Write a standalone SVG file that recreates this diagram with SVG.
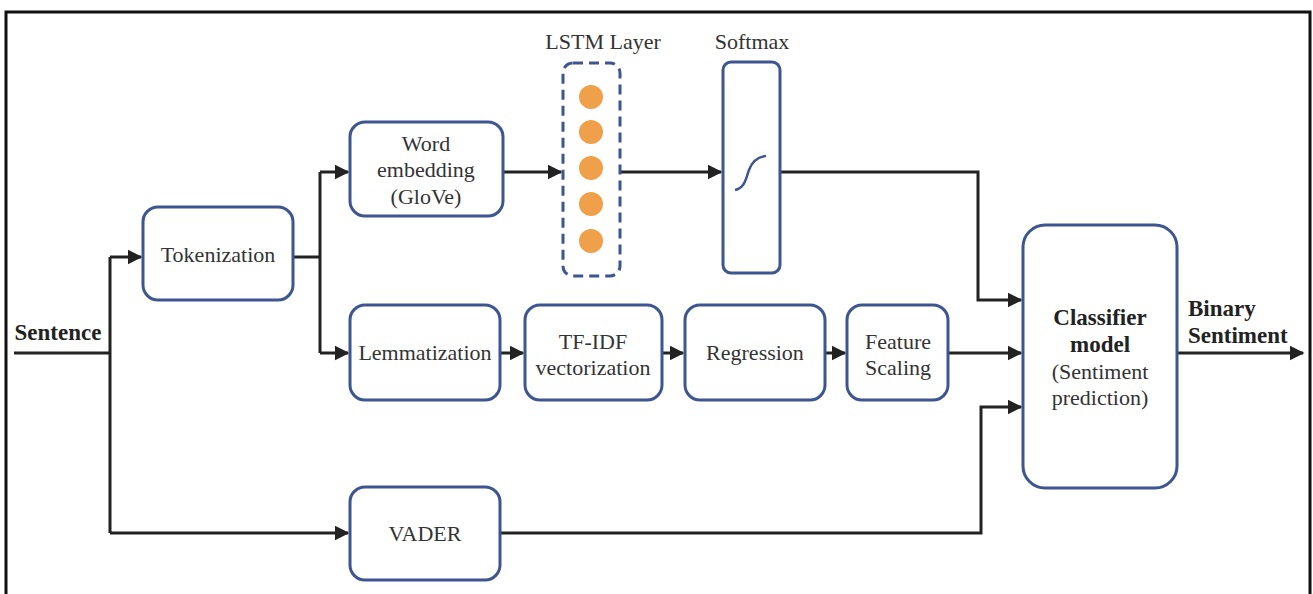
<svg xmlns="http://www.w3.org/2000/svg" width="1313" height="594" viewBox="0 0 1313 594">
<defs>
<marker id="ah" viewBox="0 0 10 10" refX="9" refY="5" markerWidth="5" markerHeight="5" orient="auto" markerUnits="strokeWidth">
<path d="M0,0 L10,5 L0,10 z" fill="#222"/>
</marker>
<style>
.box{fill:#fff;stroke:#3d5590;stroke-width:3}
.dash{fill:#fff;stroke:#3d5590;stroke-width:3;stroke-dasharray:10,6}
.t{font-size:22px;fill:#333;text-anchor:middle}
.b{font-weight:bold;fill:#222;font-size:23px}
.c{fill:none;stroke:#222;stroke-width:3}
.dot{fill:#f0a04a}
</style>
</defs>
<rect x="0" y="0" width="1313" height="594" fill="#fff"/>
<rect x="6" y="12" width="1304" height="600" fill="none" stroke="#111" stroke-width="3"/>

<g id="connectors">
<path class="c" d="M14,353 H110"/>
<path class="c" d="M110,257 V533"/>
<path class="c" d="M110,257 H141" marker-end="url(#ah)"/>
<path class="c" d="M110,533 H348" marker-end="url(#ah)"/>
<path class="c" d="M293,257 H320"/>
<path class="c" d="M320,172 V353"/>
<path class="c" d="M320,172 H348" marker-end="url(#ah)"/>
<path class="c" d="M320,353 H348" marker-end="url(#ah)"/>
<path class="c" d="M503,172 H561" marker-end="url(#ah)"/>
<path class="c" d="M620,172 H721" marker-end="url(#ah)"/>
<path class="c" d="M780,172 H978 V300 H1021" marker-end="url(#ah)"/>
<path class="c" d="M500,353 H523" marker-end="url(#ah)"/>
<path class="c" d="M662,353 H683" marker-end="url(#ah)"/>
<path class="c" d="M825,353 H845" marker-end="url(#ah)"/>
<path class="c" d="M948,353 H1021" marker-end="url(#ah)"/>
<path class="c" d="M500,533 H981 V407 H1021" marker-end="url(#ah)"/>
<path class="c" d="M1177,353 H1303" marker-end="url(#ah)"/>
</g>

<g font-family="'Liberation Serif', 'DejaVu Serif', serif">
<g id="sentence">
<text class="t b" x="58" y="340">Sentence</text>
</g>

<g id="tokenization">
<rect class="box" x="143" y="207" width="150" height="93" rx="15"/>
<text class="t" x="218" y="262">Tokenization</text>
</g>

<g id="word-embedding">
<rect class="box" x="350" y="122" width="153" height="94" rx="15"/>
<text class="t" x="426" y="151">Word</text>
<text class="t" x="426" y="177">embedding</text>
<text class="t" x="426" y="204">(GloVe)</text>
</g>

<g id="lstm">
<text class="t" x="603" y="49">LSTM Layer</text>
<rect class="dash" x="563" y="63" width="57" height="213" rx="10"/>
<circle class="dot" cx="591" cy="97" r="12"/>
<circle class="dot" cx="591" cy="132" r="12"/>
<circle class="dot" cx="591" cy="168" r="12"/>
<circle class="dot" cx="591" cy="204" r="12"/>
<circle class="dot" cx="591" cy="241" r="12"/>
</g>

<g id="softmax">
<text class="t" x="752" y="49">Softmax</text>
<rect class="box" x="723" y="62" width="57" height="211" rx="8"/>
<path d="M735,190 C745,188 746,178 749,170 C752,162 757,157 766,156" fill="none" stroke="#3d5590" stroke-width="2.5"/>
</g>

<g id="lemmatization">
<rect class="box" x="350" y="305" width="150" height="95" rx="15"/>
<text class="t" x="425" y="360">Lemmatization</text>
</g>

<g id="tfidf">
<rect class="box" x="525" y="305" width="137" height="95" rx="15"/>
<text class="t" x="593" y="349">TF-IDF</text>
<text class="t" x="593" y="375">vectorization</text>
</g>

<g id="regression">
<rect class="box" x="685" y="305" width="140" height="95" rx="15"/>
<text class="t" x="755" y="360">Regression</text>
</g>

<g id="feature-scaling">
<rect class="box" x="847" y="305" width="101" height="95" rx="15"/>
<text class="t" x="898" y="349">Feature</text>
<text class="t" x="898" y="375">Scaling</text>
</g>

<g id="vader">
<rect class="box" x="350" y="487" width="150" height="93" rx="15"/>
<text class="t" x="425" y="541">VADER</text>
</g>

<g id="classifier">
<rect class="box" x="1023" y="225" width="154" height="263" rx="22"/>
<text class="t b" x="1100" y="325">Classifier</text>
<text class="t b" x="1100" y="352">model</text>
<text class="t" x="1100" y="379">(Sentiment</text>
<text class="t" x="1100" y="405">prediction)</text>
</g>

<g id="binary-sentiment">
<text class="t b" x="1188" y="316" style="text-anchor:start">Binary</text>
<text class="t b" x="1188" y="343" style="text-anchor:start">Sentiment</text>
</g>
</g>
</svg>
